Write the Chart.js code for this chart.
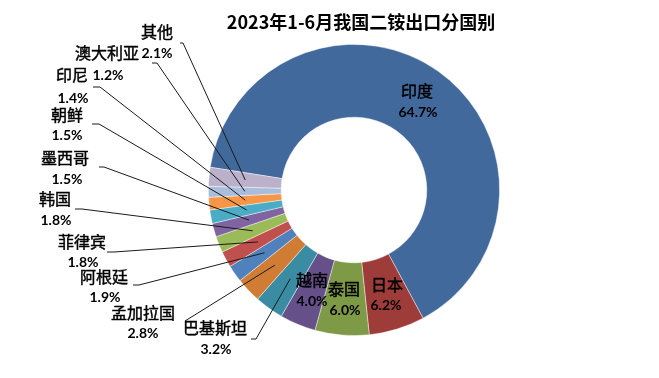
<!DOCTYPE html>
<html>
<head>
<meta charset="utf-8">
<script src="https://cdn.jsdelivr.net/npm/chart.js@4.4.0/dist/chart.umd.min.js"></script>
<style>
  html, body { margin: 0; padding: 0; background: #ffffff; }
  #wrap { width: 659px; height: 378px; position: relative; }
</style>
</head>
<body>
<div id="wrap"><canvas id="c" width="659" height="378"></canvas></div>
<script>
// ---- data ----
const chartTitle = '2023年1-6月我国二铵出口分国别';
const categories = ['印度','日本','泰国','越南','巴基斯坦','孟加拉国','阿根廷','菲律宾','韩国','墨西哥','朝鲜','印尼','澳大利亚','其他'];
const shares = [64.7, 6.2, 6.0, 4.0, 3.2, 2.8, 1.9, 1.8, 1.8, 1.5, 1.5, 1.4, 1.2, 2.1];
const pctLabels = ['64.7%','6.2%','6.0%','4.0%','3.2%','2.8%','1.9%','1.8%','1.8%','1.5%','1.5%','1.4%','1.2%','2.1%'];

// ---- styles ----
const sliceColors = ['#41699B','#9E3C3A','#7E9A46','#66508A','#3A8CA3','#D07C35','#4F81BD','#C0504D','#9BBB59','#8064A2','#4BACC6','#F79646','#A9BDDC','#BBB1CB'];

// label layout: name position, percent position, optional leader (start point + horizontal tick end)
const labelLayout = [
  { n:[417,91],  p:[418,112] },
  { n:[387,285], p:[386,305] },
  { n:[344,289], p:[345,310] },
  { n:[312,280], p:[312,301] },
  { n:[215,328], p:[216,349], l:[251,339,256] },
  { n:[143,313], p:[143,333], l:[185,321,185] },
  { n:[104,277], p:[105,297], l:[133,285,139] },
  { n:[82,242],  p:[83,262],  l:[107,252,114] },
  { n:[55,199],  p:[56,220],  l:[75,209,82] },
  { n:[65,158],  p:[67,179],  l:[99,167,104] },
  { n:[67,115],  p:[67,135],  l:[92,124,99] },
  { n:[72,75],   p:[73,98],   l:[93,87,100] },
  { n:[107,53],  p:[108,75],  l:[152,63,157] },
  { n:[157,32],  p:[157,53],  l:[180,43,183] }
];

const labelPlugin = {
  id: 'labelPlugin',
  afterDatasetsDraw(chart) {
    const ctx = chart.ctx;
    const meta = chart.getDatasetMeta(0);
    ctx.save();
    // title
    ctx.fillStyle = '#000';
    ctx.textAlign = 'center';
    ctx.textBaseline = 'middle';
    ctx.font = 'bold 18px "Noto Sans CJK SC", sans-serif';
    ctx.fillText(chartTitle, 361, 22);
    // leader lines
    ctx.strokeStyle = '#1a1a1a';
    ctx.lineWidth = 1;
    meta.data.forEach((arc, i) => {
      const L = labelLayout[i];
      if (!L.l) return;
      const c = arc.getCenterPoint();
      ctx.beginPath();
      ctx.moveTo(L.l[0], L.l[1]);
      ctx.lineTo(L.l[2], L.l[1]);
      ctx.lineTo(c.x, c.y);
      ctx.stroke();
    });
    // labels
    meta.data.forEach((arc, i) => {
      const L = labelLayout[i];
      ctx.fillStyle = '#000';
      ctx.strokeStyle = '#000';
      ctx.lineWidth = 0.45;
      ctx.font = '16px "Noto Sans CJK SC", sans-serif';
      ctx.fillText(categories[i], L.n[0], L.n[1]);
      ctx.strokeText(categories[i], L.n[0], L.n[1]);
      ctx.font = 'bold 14px Lato, "Noto Sans", sans-serif';
      ctx.fillText(pctLabels[i], L.p[0], L.p[1]);
    });
    ctx.restore();
  }
};

new Chart(document.getElementById('c'), {
  type: 'doughnut',
  data: {
    labels: categories,
    datasets: [{
      data: shares,
      backgroundColor: sliceColors,
      borderColor: 'rgba(255,255,255,0.55)',
      borderWidth: 0.8
    }]
  },
  options: {
    responsive: false,
    animation: false,
    rotation: -81,
    cutout: '50%',
    layout: { padding: { top: 44, bottom: 42, left: 208, right: 159 } },
    plugins: {
      legend: { display: false },
      title: { display: false },
      tooltip: { enabled: false }
    }
  },
  plugins: [labelPlugin]
});
</script>
</body>
</html>
